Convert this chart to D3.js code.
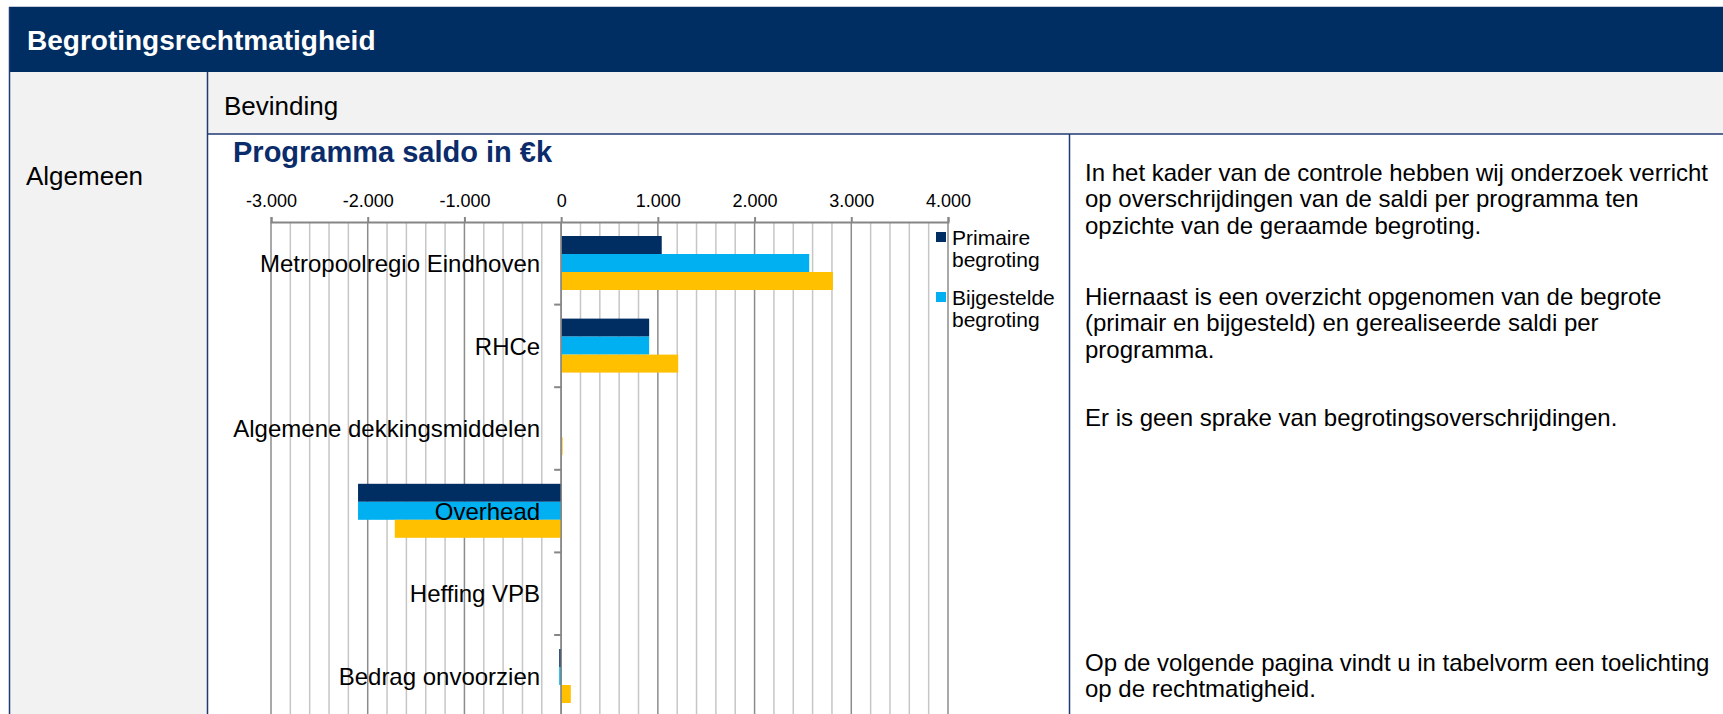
<!DOCTYPE html>
<html>
<head>
<meta charset="utf-8">
<script src="https://cdn.jsdelivr.net/npm/d3@7"></script>
<style>
  body { margin: 0; overflow: hidden; background: #fff; }
  svg { display: block; font-family: "Liberation Sans", Arial, sans-serif; }
</style>
</head>
<body>
<script>
// data (values in €k)
const categories = ["Metropoolregio Eindhoven", "RHCe", "Algemene dekkingsmiddelen", "Overhead", "Heffing VPB", "Bedrag onvoorzien"];
const seriesNames = ["Primaire begroting", "Bijgestelde begroting", "Realisatie"];
const primair = [1040, 910, 0, -2100, 0, -20];
const bijgesteld = [2565, 910, 0, -2100, 0, -20];
const realisatie = [2810, 1210, 15, -1720, 0, 100];
const xTicks = [-3000, -2000, -1000, 0, 1000, 2000, 3000, 4000];
const minorStep = 200;

const tekst = [
  ["In het kader van de controle hebben wij onderzoek verricht", "op overschrijdingen van de saldi per programma ten", "opzichte van de geraamde begroting."],
  ["Hiernaast is een overzicht opgenomen van de begrote", "(primair en bijgesteld) en gerealiseerde saldi per", "programma."],
  ["Er is geen sprake van begrotingsoverschrijdingen."],
  ["Op de volgende pagina vindt u in tabelvorm een toelichting", "op de rechtmatigheid."]
];
const tekstTop = [181, 305, 426, 671];

const colors = ["#002d62", "#00b0f0", "#ffc000"];
const navy = "#002d62";

const W = 1723, H = 714;
const svg = d3.select("body").append("svg").attr("width", W).attr("height", H);

// table frame
svg.append("rect").attr("x", 9).attr("y", 7).attr("width", W - 9).attr("height", 65).attr("fill", navy);
svg.append("line").attr("x1", 9).attr("x2", W).attr("y1", 6.5).attr("y2", 6.5).attr("stroke", "#c5cad6");
svg.append("rect").attr("x", 9).attr("y", 72).attr("width", 198).attr("height", H - 72).attr("fill", "#f2f2f2");
svg.append("rect").attr("x", 207).attr("y", 72).attr("width", W - 207).attr("height", 62).attr("fill", "#f2f2f2");

const borders = [
  [9.5, 7, 9.5, H], [207.5, 72, 207.5, H], [207, 134, W, 134], [1069.5, 134, 1069.5, H]
];
svg.selectAll(".border").data(borders).enter().append("line")
  .attr("x1", d => d[0]).attr("y1", d => d[1]).attr("x2", d => d[2]).attr("y2", d => d[3])
  .attr("stroke", "#1f3a73").attr("stroke-width", 1.5);

svg.append("text").attr("x", 27).attr("y", 50).attr("fill", "#fff")
  .attr("font-size", 28).attr("font-weight", "bold").text("Begrotingsrechtmatigheid");
svg.append("text").attr("x", 224).attr("y", 115).attr("font-size", 26).text("Bevinding");
svg.append("text").attr("x", 26).attr("y", 185).attr("font-size", 26).text("Algemeen");

// chart title
svg.append("text").attr("x", 233).attr("y", 162).attr("fill", "#0b2c6a")
  .attr("font-size", 29).attr("font-weight", "bold").text("Programma saldo in €k");

// scales
const axisY = 222, band = 82.6;
const x = d3.scaleLinear().domain([-3000, 4000]).range([271, 948]);
const y = d3.scaleBand().domain(categories).range([axisY, axisY + band * categories.length]);
const inner = d3.scaleBand().domain(seriesNames).range([14, 68]);
const nl = d3.formatLocale({ decimal: ",", thousands: ".", grouping: [3], currency: ["€", ""], minus: "-" });
const fmt = nl.format(",");

const plot = svg.append("g");

// gridlines (minor light, major darker)
const minor = d3.range(-3000, 4001, minorStep).filter(v => !xTicks.includes(v));
plot.selectAll(".minor").data(minor).enter().append("line")
  .attr("x1", d => x(d)).attr("x2", d => x(d)).attr("y1", axisY).attr("y2", H)
  .attr("stroke", "#c6c6c6").attr("stroke-width", 1.5);
plot.selectAll(".major").data(xTicks).enter().append("line")
  .attr("x1", d => x(d)).attr("x2", d => x(d)).attr("y1", axisY).attr("y2", H)
  .attr("stroke", "#8c8c8c").attr("stroke-width", 1.5);

// bars
const rows = categories.map((c, i) => ({ cat: c, vals: [primair[i], bijgesteld[i], realisatie[i]] }));
const groups = plot.selectAll(".grp").data(rows).enter().append("g")
  .attr("transform", d => "translate(0," + y(d.cat) + ")");
groups.selectAll("rect")
  .data(d => d.vals.map((v, j) => ({ v: v, s: seriesNames[j], j: j })))
  .enter().append("rect")
  .attr("x", d => x(Math.min(0, d.v)))
  .attr("width", d => Math.abs(x(d.v) - x(0)))
  .attr("y", d => inner(d.s))
  .attr("height", inner.bandwidth())
  .attr("fill", d => colors[d.j]);

// top axis
const xAxis = plot.append("g").attr("transform", "translate(0," + axisY + ")")
  .call(d3.axisTop(x).tickValues(xTicks).tickSize(5).tickPadding(10).tickFormat(fmt));
xAxis.select(".domain").attr("stroke", "#868686").attr("stroke-width", 2);
xAxis.selectAll(".tick line").attr("stroke", "#868686").attr("stroke-width", 2);
xAxis.selectAll("text").attr("font-size", 18).attr("fill", "#000")
  .attr("font-family", "'Liberation Sans', Arial, sans-serif");

// vertical category axis at zero
const yAxis = plot.append("g").attr("transform", "translate(" + x(0) + ",0)");
yAxis.append("line").attr("y1", axisY).attr("y2", H).attr("stroke", "#868686").attr("stroke-width", 1.5);
yAxis.selectAll(".ctick").data(categories.slice(1)).enter().append("line")
  .attr("x1", -7).attr("x2", 0).attr("y1", d => y(d)).attr("y2", d => y(d))
  .attr("stroke", "#868686").attr("stroke-width", 2);
yAxis.selectAll(".clabel").data(categories).enter().append("text")
  .attr("x", -21).attr("y", d => y(d) + y.bandwidth() / 2).attr("dy", "0.36em")
  .attr("text-anchor", "end").attr("font-size", 24).text(d => d);

// legend (only the first two entries fit in the box)
const legend = svg.append("g").attr("transform", "translate(936,232)");
const li = legend.selectAll("g").data(seriesNames.slice(0, 2)).enter().append("g")
  .attr("transform", (d, i) => "translate(0," + i * 60 + ")");
li.append("rect").attr("width", 10).attr("height", 10).attr("fill", (d, i) => colors[i]);
li.append("text").attr("x", 16).attr("y", 13).attr("font-size", 21)
  .selectAll("tspan").data(d => d.split(" ")).enter().append("tspan")
  .attr("x", 16).attr("dy", (d, i) => i ? 22 : 0).text(d => d);

// right column text
const para = svg.append("g").attr("font-size", 24);
para.selectAll("text").data(tekst).enter().append("text")
  .attr("x", 1085).attr("y", (d, i) => tekstTop[i])
  .selectAll("tspan").data(d => d).enter().append("tspan")
  .attr("x", 1085).attr("dy", (d, i) => i ? 26.4 : 0).text(d => d);
</script>
</body>
</html>
